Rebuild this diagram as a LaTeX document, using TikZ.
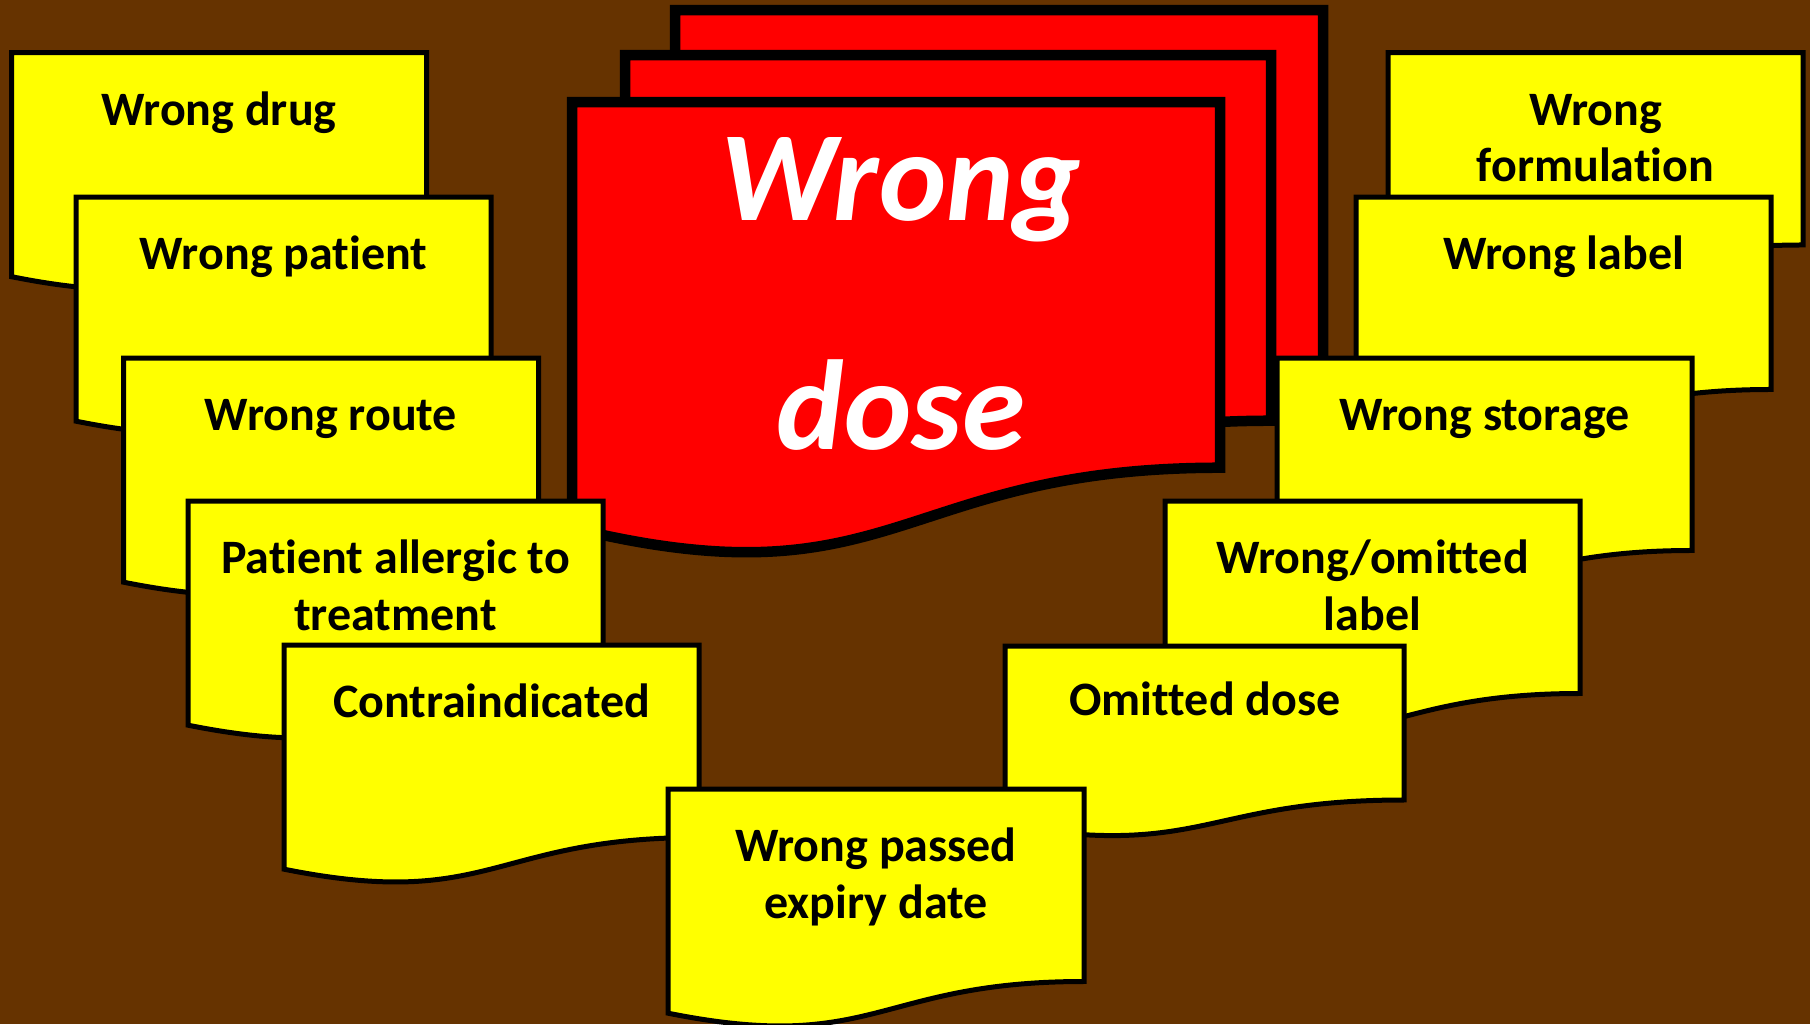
\documentclass[tikz,border=0pt]{standalone}
\usepackage{fontspec}
\setmainfont{Carlito}[Ligatures=NoCommon]
\definecolor{bgbrown}{HTML}{663300}
\definecolor{ylw}{HTML}{FFFF00}
\definecolor{rd}{HTML}{FF0000}
\newcommand{\docshape}[5]{%
  \draw[#1] (#2,#3) -- ({#2+#4},#3) -- ({#2+#4},{#3+0.802*#5})
    .. controls ({#2+0.5*#4},{#3+0.802*#5}) and ({#2+0.5*#4},{#3+1.1075*#5}) ..
    (#2,{#3+0.934*#5}) -- cycle;}
\begin{document}
\begin{tikzpicture}[x=0.5pt,y=-0.5pt,
  ybox/.style={draw=black, fill=ylw, line width=2.5pt, line join=miter},
  rbox/.style={draw=black, fill=rd, line width=5.25pt, line join=miter},
  ytext/.style={font=\fontsize{24}{28.3}\selectfont\bfseries, align=center, anchor=base, inner sep=0pt, text=black},
  rtext/.style={font=\fontsize{64}{114.5}\selectfont\bfseries\itshape, align=center, anchor=base, inner sep=0pt, text=white}]
\fill[bgbrown] (0,0) rectangle (1810,1024);
\useasboundingbox (0,0) rectangle (1810,1024);
% red stack
\docshape{rbox}{675}{10}{648}{456}
\docshape{rbox}{625}{55}{646}{456}
\docshape{rbox}{572}{102}{648}{456}
\node[rtext] (dose) at (901,449) {Wrong\\dose};
% left column
\docshape{ybox}{11.5}{52.5}{415}{240}
\node[ytext] (drug) at (219,125) {Wrong drug};
\docshape{ybox}{76}{197}{415}{240}
\node[ytext] (patient) at (283.5,269.5) {Wrong patient};
\docshape{ybox}{123.5}{358}{415}{240}
\node[ytext] (route) at (331,430.5) {Wrong route};
\docshape{ybox}{188}{501}{415}{240}
\node[ytext] (allergic) at (395.5,630.1) {Patient allergic to\\treatment};
\docshape{ybox}{284}{645}{415}{240}
\node[ytext] (contra) at (491.5,717.5) {Contraindicated};
% right column
\docshape{ybox}{1388}{52.5}{415}{240}
\node[ytext] (formulation) at (1595.5,181.6) {Wrong\\formulation};
\docshape{ybox}{1356}{197}{415}{240}
\node[ytext] (label) at (1563.5,269.5) {Wrong label};
\docshape{ybox}{1277}{358}{415}{240}
\node[ytext] (storage) at (1484.5,430.5) {Wrong storage};
\docshape{ybox}{1165}{501}{415}{240}
\node[ytext] (omlabel) at (1372.5,630.1) {Wrong/omitted\\label};
\docshape{ybox}{1005}{646}{399}{192}
\node[ytext] (omdose) at (1205,715) {Omitted dose};
% bottom
\docshape{ybox}{668}{789}{416}{240}
\node[ytext] (expiry) at (876,918.1) {Wrong passed\\expiry date};
\end{tikzpicture}
\end{document}
